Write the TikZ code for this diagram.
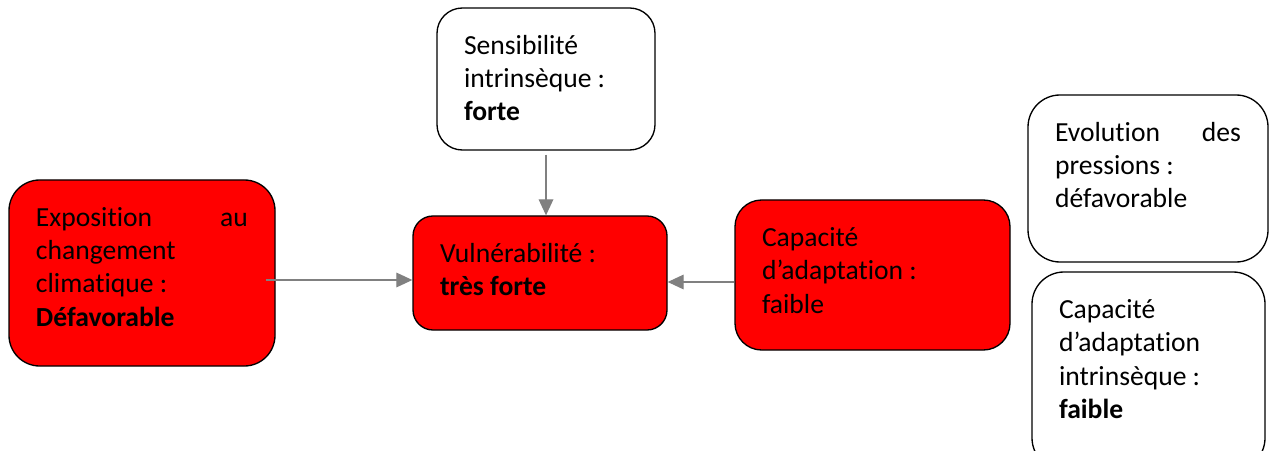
\documentclass[tikz,border=0pt]{standalone}
\usepackage{fontspec}
\setmainfont{Carlito}[Ligatures=NoCommon]
\usetikzlibrary{arrows.meta}

\definecolor{boxred}{HTML}{FF0000}
\definecolor{linkgray}{HTML}{808080}

% text block pinned to the top of a card
\newcommand{\cardtext}[3]{\parbox[c][#2][t]{#1}{\strut#3}}

\tikzset{
  card/.style={draw=black, line width=1pt, fill=white, inner xsep=20.25pt, inner ysep=17.25pt,
    font=\fontsize{20.7pt}{25pt}\selectfont},
  redcard/.style={card, fill=boxred},
  link/.style={draw=linkgray, line width=0.9pt, -{Triangle[length=12pt,width=11pt]}},
}

\begin{document}
\begin{tikzpicture}[x=0.75pt, y=0.75pt]
  \clip (0, 0) rectangle (1269, 450);
  \useasboundingbox (0, 0) rectangle (1269, 450);

  \node[redcard, rounded corners=23pt] (expo) at (142, 177)
    {\cardtext{159pt}{105pt}{Exposition \hfill au\\ changement\\ climatique~:\\ \textbf{Défavorable}}};
  \node[card, rounded corners=19pt] (sens) at (546, 371)
    {\cardtext{123pt}{72pt}{Sensibilité\\ intrinsèque~:\\ \textbf{forte}}};
  \node[redcard, rounded corners=15pt] (vuln) at (540, 177)
    {\cardtext{150pt}{51pt}{Vulnérabilité~:\\ \textbf{très forte}}};
  \node[redcard, rounded corners=20pt] (adapt) at (872.5, 175)
    {\cardtext{165.75pt}{78pt}{Capacité\\ d’adaptation~:\\ faible}};
  \node[card, rounded corners=24pt] (evol) at (1148, 271.5)
    {\cardtext{139.5pt}{90.75pt}{Evolution \hfill des\\ pressions~:\\ défavorable}};
  \node[card, rounded corners=24pt] (intr) at (1148.5, 79)
    {\cardtext{134.25pt}{114pt}{Capacité\\ d’adaptation\\ intrinsèque~:\\ \textbf{faible}}};

  % links into the vulnerability box
  \draw[link] ([shift={(-10,-7)}]expo.east) -- ([shift={(0,-7)}]vuln.west);
  \draw[link] ([yshift=-3pt]sens.south) -- (sens.south |- vuln.north);
  \draw[link] ([shift={(0,-7)}]adapt.west) -- ([shift={(0,-9)}]vuln.east);
\end{tikzpicture}
\end{document}
